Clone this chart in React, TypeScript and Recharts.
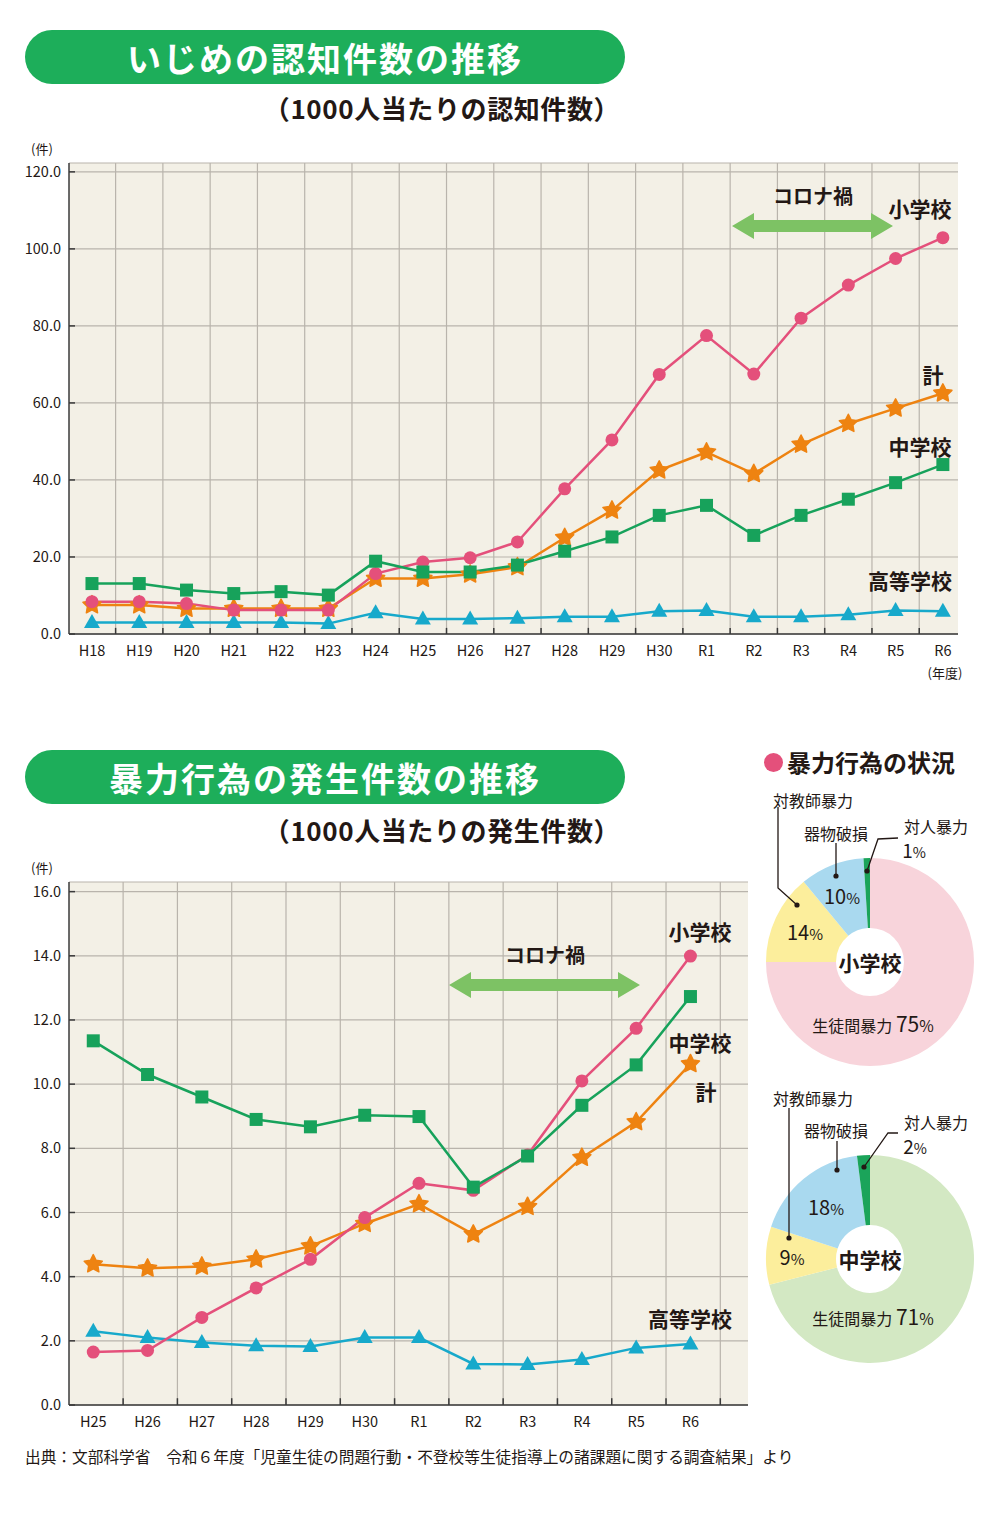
import React from 'react'
import { LineChart, Line, XAxis, YAxis, CartesianGrid, ReferenceLine, PieChart, Pie, Cell } from 'recharts'

const FONT = '"Noto Sans CJK JP", "Noto Sans", sans-serif'
const PINK = '#E4507B'
const ORANGE = '#EE8311'
const GREEN = '#17A25B'
const BLUE = '#17A9CB'
const INK = '#231815'
const PLOT_BG = '#F3F0E6'
const GRID = '#B9B4AC'
const BANNER = '#1DAE5A'
const ARROW = '#7DC264'

// いじめの認知件数（1000人当たり）
const bullyYears = ['H18', 'H19', 'H20', 'H21', 'H22', 'H23', 'H24', 'H25', 'H26', 'H27', 'H28', 'H29', 'H30', 'R1', 'R2', 'R3', 'R4', 'R5', 'R6']
const bullyElem = [8.4, 8.4, 7.9, 6.2, 6.2, 6.2, 15.7, 18.7, 19.8, 23.9, 37.7, 50.4, 67.4, 77.5, 67.5, 82.0, 90.6, 97.5, 102.9]
const bullyTotal = [7.5, 7.5, 6.6, 6.6, 6.6, 6.6, 14.4, 14.4, 15.5, 17.4, 25.0, 32.1, 42.5, 47.2, 41.6, 49.2, 54.6, 58.6, 62.5]
const bullyJunior = [13.1, 13.1, 11.4, 10.5, 11.0, 10.1, 18.9, 16.1, 16.1, 17.9, 21.5, 25.2, 30.8, 33.4, 25.6, 30.8, 35.0, 39.3, 44.0]
const bullyHigh = [3.0, 3.0, 3.0, 3.0, 3.0, 2.7, 5.5, 3.9, 3.9, 4.1, 4.5, 4.5, 5.9, 6.1, 4.5, 4.5, 5.0, 6.1, 5.9]
const bullyTicks = [0, 20, 40, 60, 80, 100, 120]

// 暴力行為の発生件数（1000人当たり）
const violenceYears = ['H25', 'H26', 'H27', 'H28', 'H29', 'H30', 'R1', 'R2', 'R3', 'R4', 'R5', 'R6']
const violenceElem = [1.65, 1.7, 2.73, 3.65, 4.54, 5.84, 6.91, 6.69, 7.79, 10.1, 11.74, 13.99]
const violenceTotal = [4.39, 4.26, 4.32, 4.54, 4.95, 5.65, 6.26, 5.32, 6.18, 7.71, 8.82, 10.63]
const violenceJunior = [11.35, 10.3, 9.6, 8.9, 8.67, 9.03, 8.99, 6.79, 7.76, 9.34, 10.6, 12.73]
const violenceHigh = [2.3, 2.1, 1.95, 1.85, 1.82, 2.1, 2.1, 1.28, 1.26, 1.42, 1.78, 1.9]
const violenceTicks = [0, 2, 4, 6, 8, 10, 12, 14, 16]

// 暴力行為の状況
const pieCategories = ['生徒間暴力', '対教師暴力', '器物破損', '対人暴力']
const elemShares = [75, 14, 10, 1]
const juniorShares = [71, 9, 18, 2]
const elemColors = ['#F8D4DB', '#FCEE9C', '#A9D9EF', '#1BA45A']
const juniorColors = ['#D3E8C3', '#FCEE9C', '#A9D9EF', '#1BA45A']

const CircleDot = (p: any) => <circle key={p.index} cx={p.cx} cy={p.cy} r={6.5} fill={PINK} />
const SquareDot = (p: any) => <rect key={p.index} x={p.cx - 6.5} y={p.cy - 6.5} width={13} height={13} fill={GREEN} />
const TriangleDot = (p: any) => (
  <polygon key={p.index} points={`${p.cx},${p.cy - 8.5} ${p.cx + 8},${p.cy + 5.5} ${p.cx - 8},${p.cy + 5.5}`} fill={BLUE} />
)
const StarDot = (p: any) => {
  const pts: string[] = []
  for (let k = 0; k < 10; k++) {
    const r = k % 2 === 0 ? 9.5 : 4.8
    const a = -Math.PI / 2 + (k * Math.PI) / 5
    pts.push(`${p.cx + r * Math.cos(a)},${p.cy + r * Math.sin(a)}`)
  }
  return <polygon key={p.index} points={pts.join(' ')} fill={ORANGE} stroke={ORANGE} strokeWidth={1.5} strokeLinejoin="round" />
}

const Txt = ({ x, y, children, size = 16, weight = 400, color = INK, align = 'center', spacing = 0 }: any) => (
  <div
    style={{
      position: 'absolute',
      left: x,
      top: y,
      transform: `translate(${align === 'center' ? '-50%' : align === 'right' ? '-100%' : '0'}, -50%)`,
      fontSize: size,
      fontWeight: weight,
      color,
      letterSpacing: spacing,
      whiteSpace: 'nowrap',
      lineHeight: 1,
      fontFamily: FONT,
    }}
  >
    {children}
  </div>
)

const Pct = ({ v, size }: any) => (
  <span>
    {v}
    <span style={{ fontSize: size * 0.75 }}>%</span>
  </span>
)

function TrendChart({ years, elem, total, junior, high, ticks, domain, gridOffset, gridCount, width, height, margin, left, top }: any) {
  const rows = years.map((y: string, i: number) => ({
    i,
    elem: elem[i],
    total: total[i],
    junior: junior[i],
    high: high[i],
  }))
  const idx = years.map((_: string, i: number) => i)
  const bounds = years.slice(0, gridCount).map((_: string, i: number) => i + gridOffset)
  const yMax = domain[1]
  const tickStyle = { fontSize: 14.5, fill: INK, fontFamily: FONT }
  return (
    <div style={{ position: 'absolute', left, top }}>
      <LineChart width={width} height={height} data={rows} margin={margin}>
        <CartesianGrid fill={PLOT_BG} stroke={GRID} strokeWidth={1.2} verticalValues={bounds} />
        <XAxis
          type="number"
          dataKey="i"
          domain={domain[0]}
          ticks={idx}
          interval={0}
          allowDataOverflow
          tickFormatter={(v: number) => years[v]}
          tickLine={false}
          tickMargin={6}
          height={30}
          axisLine={{ stroke: '#3A3A3A', strokeWidth: 1.5 }}
          tick={tickStyle}
        />
        <YAxis
          type="number"
          domain={[0, yMax]}
          ticks={ticks}
          allowDataOverflow
          width={60}
          tickSize={-6}
          tickMargin={14}
          tickFormatter={(v: number) => v.toFixed(1)}
          tickLine={{ stroke: '#3A3A3A', strokeWidth: 1.5 }}
          axisLine={{ stroke: '#3A3A3A', strokeWidth: 1.5 }}
          tick={tickStyle}
        />
        {bounds.map((b: number) => (
          <ReferenceLine
            key={b}
            segment={[
              { x: b, y: 0 },
              { x: b, y: yMax * 0.013 },
            ]}
            stroke="#3A3A3A"
            strokeWidth={1.5}
          />
        ))}
        <Line dataKey="high" stroke={BLUE} strokeWidth={2.5} dot={TriangleDot} activeDot={false} isAnimationActive={false} />
        <Line dataKey="total" stroke={ORANGE} strokeWidth={2.5} dot={StarDot} activeDot={false} isAnimationActive={false} />
        <Line dataKey="elem" stroke={PINK} strokeWidth={2.5} dot={CircleDot} activeDot={false} isAnimationActive={false} />
        <Line dataKey="junior" stroke={GREEN} strokeWidth={2.5} dot={SquareDot} activeDot={false} isAnimationActive={false} />
      </LineChart>
    </div>
  )
}

function SharePie({ shares, colors, left, top }: any) {
  const data = pieCategories.map((name, k) => ({ name, value: shares[k] }))
  return (
    <div style={{ position: 'absolute', left, top }}>
      <PieChart width={210} height={210} margin={{ top: 0, right: 0, bottom: 0, left: 0 }}>
        <Pie
          data={data}
          dataKey="value"
          cx="50%"
          cy="50%"
          innerRadius={34}
          outerRadius={104}
          startAngle={90}
          endAngle={-270}
          stroke="none"
          isAnimationActive={false}
        >
          {data.map((d, k) => (
            <Cell key={d.name} fill={colors[k]} />
          ))}
        </Pie>
      </PieChart>
    </div>
  )
}

function doubleArrow(x1: number, x2: number, y: number) {
  const sh = 6
  const hh = 13
  const hl = 22
  return `${x1},${y} ${x1 + hl},${y - hh} ${x1 + hl},${y - sh} ${x2 - hl},${y - sh} ${x2 - hl},${y - hh} ${x2},${y} ${x2 - hl},${y + hh} ${x2 - hl},${y + sh} ${x1 + hl},${y + sh} ${x1 + hl},${y + hh}`
}

const Banner = ({ top, text }: any) => (
  <div
    style={{
      position: 'absolute',
      left: 25,
      top,
      width: 600,
      height: 54,
      borderRadius: 27,
      background: BANNER,
      color: '#fff',
      fontFamily: FONT,
      fontWeight: 700,
      fontSize: 34,
      letterSpacing: 2,
      display: 'flex',
      alignItems: 'center',
      justifyContent: 'center',
    }}
  >
    {text}
  </div>
)

export default function App() {
  return (
    <div style={{ position: 'absolute', left: 0, top: 0, width: 1000, height: 1517, background: '#fff', fontFamily: FONT, overflow: 'hidden' }}>
      <Banner top={30} text="いじめの認知件数の推移" />
      <Txt x={442} y={108} size={26} weight={700} spacing={0.6}>（1000人当たりの認知件数）</Txt>
      <Txt x={42} y={148} size={13}>(件)</Txt>

      <TrendChart
        years={bullyYears}
        elem={bullyElem}
        total={bullyTotal}
        junior={bullyJunior}
        high={bullyHigh}
        ticks={bullyTicks}
        domain={[[-0.486, 18.32], 122.3]}
        gridOffset={0.5}
        gridCount={bullyYears.length - 1}
        width={1000}
        height={570}
        margin={{ top: 33, right: 42, left: 9, bottom: 36 }}
        left={0}
        top={130}
      />
      <Txt x={945} y={672} size={13}>(年度)</Txt>
      <Txt x={813} y={196} size={20} weight={700}>コロナ禍</Txt>
      <Txt x={920} y={208} size={21} weight={700}>小学校</Txt>
      <Txt x={933} y={374} size={21} weight={700}>計</Txt>
      <Txt x={920} y={446} size={21} weight={700}>中学校</Txt>
      <Txt x={910} y={580} size={21} weight={700}>高等学校</Txt>

      <Banner top={750} text="暴力行為の発生件数の推移" />
      <Txt x={442} y={830} size={26} weight={700} spacing={0.6}>（1000人当たりの発生件数）</Txt>
      <Txt x={42} y={867} size={13}>(件)</Txt>

      <TrendChart
        years={violenceYears}
        elem={violenceElem}
        total={violenceTotal}
        junior={violenceJunior}
        high={violenceHigh}
        ticks={violenceTicks}
        domain={[[-0.447, 12.06], 16.3]}
        gridOffset={0.55}
        gridCount={violenceYears.length}
        width={800}
        height={600}
        margin={{ top: 32, right: 52, left: 9, bottom: 15 }}
        left={0}
        top={850}
      />
      <Txt x={545} y={955} size={20} weight={700}>コロナ禍</Txt>
      <Txt x={700} y={931} size={21} weight={700}>小学校</Txt>
      <Txt x={700} y={1042} size={21} weight={700}>中学校</Txt>
      <Txt x={706} y={1091} size={21} weight={700}>計</Txt>
      <Txt x={690} y={1318} size={21} weight={700}>高等学校</Txt>

      <div style={{ position: 'absolute', left: 764, top: 753, width: 19, height: 19, borderRadius: 10, background: PINK }} />
      <Txt x={787} y={762} size={24} weight={700} align="left">暴力行為の状況</Txt>

      <SharePie shares={elemShares} colors={elemColors} left={765} top={857} />
      <SharePie shares={juniorShares} colors={juniorColors} left={765} top={1154} />

      <svg width={1000} height={1517} style={{ position: 'absolute', left: 0, top: 0, pointerEvents: 'none' }}>
        <polygon points={doubleArrow(732, 893, 226)} fill={ARROW} />
        <polygon points={doubleArrow(449, 640, 985)} fill={ARROW} />
        <g stroke={INK} strokeWidth={1.3} fill="none">
          <polyline points="778,807 778,888 797,905" />
          <polyline points="836,843 836,876" />
          <polyline points="898,838 878,839 867,871" />
          <polyline points="789,1108 789,1238" />
          <polyline points="837,1141 837,1170" />
          <polyline points="898,1133 888,1133 864,1167" />
        </g>
        <g fill={INK}>
          <circle cx={797} cy={905} r={2.6} />
          <circle cx={836} cy={876} r={2.6} />
          <circle cx={867} cy={871} r={2.6} />
          <circle cx={789} cy={1238} r={2.6} />
          <circle cx={837} cy={1170} r={2.6} />
          <circle cx={864} cy={1167} r={2.6} />
        </g>
      </svg>

      <Txt x={813} y={800} size={16}>対教師暴力</Txt>
      <Txt x={836} y={833} size={16}>器物破損</Txt>
      <Txt x={936} y={826} size={16}>対人暴力</Txt>
      <Txt x={914} y={850} size={19}><Pct v={1} size={19} /></Txt>
      <Txt x={842} y={896} size={20}><Pct v={10} size={20} /></Txt>
      <Txt x={805} y={932} size={20}><Pct v={14} size={20} /></Txt>
      <Txt x={870} y={962} size={21} weight={700}>小学校</Txt>
      <Txt x={873} y={1023} size={16}>生徒間暴力 <span style={{ fontSize: 21 }}><Pct v={75} size={21} /></span></Txt>

      <Txt x={813} y={1098} size={16}>対教師暴力</Txt>
      <Txt x={836} y={1130} size={16}>器物破損</Txt>
      <Txt x={936} y={1122} size={16}>対人暴力</Txt>
      <Txt x={915} y={1146} size={19}><Pct v={2} size={19} /></Txt>
      <Txt x={826} y={1207} size={20}><Pct v={18} size={20} /></Txt>
      <Txt x={792} y={1257} size={20}><Pct v={9} size={20} /></Txt>
      <Txt x={870} y={1259} size={21} weight={700}>中学校</Txt>
      <Txt x={873} y={1316} size={16}>生徒間暴力 <span style={{ fontSize: 21 }}><Pct v={71} size={21} /></span></Txt>

      <Txt x={25} y={1457} size={15.7} align="left">出典：文部科学省　令和６年度「児童生徒の問題行動・不登校等生徒指導上の諸課題に関する調査結果」より</Txt>
    </div>
  )
}
